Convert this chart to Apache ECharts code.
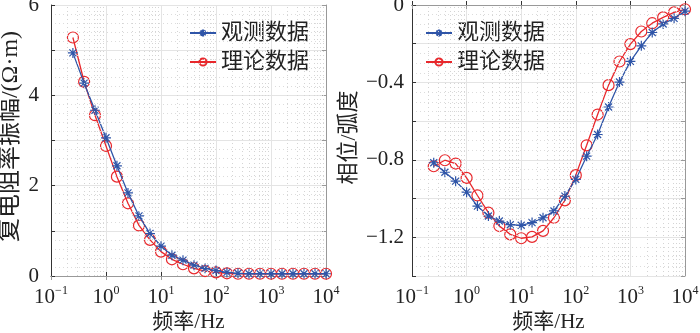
<!DOCTYPE html>
<html>
<head>
<meta charset="UTF-8">
<title>复电阻率振幅与相位</title>
<script src="https://cdn.jsdelivr.net/npm/echarts@6/dist/echarts.min.js"></script>
<style>
  html, body{ margin:0; padding:0; background:#fff; }
  #main{ width:700px; height:333px; }
</style>
</head>
<body>
<div id="main"></div>
<script>
// 频率点 (Hz)
var freq = [0.25, 0.4, 0.63, 1, 1.58, 2.51, 3.98, 6.31, 10, 15.8, 25.1, 39.8,
            63.1, 100, 158, 251, 398, 631, 1000, 1585, 2512, 3981, 6310, 10000];
// 振幅
var ampObs = [4.94, 4.27, 3.67, 3.06, 2.44, 1.84, 1.33, 0.94, 0.66, 0.46, 0.35, 0.24,
              0.17, 0.12, 0.08, 0.06, 0.05, 0.05, 0.05, 0.05, 0.05, 0.05, 0.05, 0.05];
var ampThe = [5.28, 4.30, 3.56, 2.88, 2.20, 1.61, 1.12, 0.80, 0.54, 0.37, 0.26, 0.17,
              0.11, 0.08, 0.06, 0.05, 0.05, 0.05, 0.05, 0.05, 0.05, 0.05, 0.05, 0.05];
// 相位
var phaObs = [-0.815, -0.864, -0.910, -0.967, -1.039, -1.090, -1.116, -1.135, -1.138, -1.124, -1.099, -1.064,
              -0.987, -0.901, -0.781, -0.669, -0.527, -0.398, -0.291, -0.211, -0.142, -0.098, -0.069, -0.032];
var phaThe = [-0.833, -0.802, -0.819, -0.893, -0.984, -1.073, -1.142, -1.185, -1.205, -1.198, -1.167, -1.099,
              -1.009, -0.879, -0.725, -0.566, -0.414, -0.292, -0.202, -0.137, -0.094, -0.064, -0.038, -0.022];
// 次网格线位置
var minorX = [];
[0.1, 1, 10, 100, 1000].forEach(function(d){
	for(var m=2;m<=9;m++){ minorX.push({xAxis: +(d*m).toPrecision(3)}); }
});

var blue = '#2f55a8';
var red = '#e8282c';
var numFont = '"Liberation Serif", "Times New Roman", serif';
var cjkFont = '"Liberation Serif", "Noto Sans CJK SC", serif';
var starPath = 'path://M0,-1L0,1M-1,0L1,0M-0.7,-0.7L0.7,0.7M-0.7,0.7L0.7,-0.7';

function pairs(ys){
	var out=[];
	for(var i=0;i<freq.length;i++){ out.push([freq[i], ys[i]]); }
	return out;
}
function logLabel(v){
	var e = Math.round(Math.log(v)/Math.LN10);
	return '{b|10}{s|' + (e<0 ? '\u2212'+(-e) : e) + '}';
}
var logRich = {
	b:{fontFamily:numFont, fontSize:21, color:'#222'},
	s:{fontFamily:numFont, fontSize:12, color:'#222', verticalAlign:'top', padding:[0,0,12,0]}
};

var grids = [
	{left:51, right:374, top:5, bottom:57, outerBoundsMode:'none', containLabel:false},
	{left:412, right:15, top:5, bottom:57, outerBoundsMode:'none', containLabel:false}
];

var chart = echarts.init(document.getElementById('main'));
var xAxes = [], yAxes = [];
[0,1].forEach(function(g){
	xAxes.push({
		type:'log', logBase:10, min:0.1, max:10000, gridIndex:g,
		name:'频率/Hz', nameLocation:'middle', nameGap:36,
		nameTextStyle:{fontFamily:cjkFont, fontSize:21, color:'#222'},
		axisLine:{lineStyle:{color:'#333', width:1}},
		axisTick:{inside:true, length:4, lineStyle:{color:'#333'}},
		axisLabel:{formatter:logLabel, rich:logRich, margin:9},
		splitLine:{show:true, lineStyle:{color:'#e4e4e4', width:1}}
	});
	xAxes.push({
		type:'log', logBase:10, min:0.1, max:10000, gridIndex:g, position:'top',
		axisLine:{lineStyle:{color:'#999'}},
		axisTick:{inside:true, length:4, lineStyle:{color:'#999'}},
		axisLabel:{show:false}, splitLine:{show:false}
	});
});
yAxes.push({
	type:'value', min:0, max:6, interval:1, gridIndex:0,
	name:'复电阻率振幅/(Ω·m)', nameLocation:'middle', nameGap:28,
	nameTextStyle:{fontFamily:cjkFont, fontSize:24, color:'#222', padding:[0,0,0,8]},
	axisLine:{show:true, lineStyle:{color:'#333'}},
	axisTick:{inside:true, length:4, lineStyle:{color:'#333'}},
	axisLabel:{fontFamily:numFont, fontSize:21, color:'#222', margin:12,
		formatter:function(v){ return (v%2===0) ? String(v) : ''; }},
	splitLine:{show:true, lineStyle:{color:'#e4e4e4'}},
	minorTick:{show:false, splitNumber:5},
	minorSplitLine:{show:true, lineStyle:{color:'#dcdcdc', type:[1,3]}}
});
yAxes.push({
	type:'value', min:0, max:6, interval:1, gridIndex:0, position:'right',
	axisLine:{show:true, lineStyle:{color:'#999'}},
	axisTick:{inside:true, length:4, lineStyle:{color:'#999'}},
	axisLabel:{show:false}, splitLine:{show:false}
});
yAxes.push({
	type:'value', min:-1.4, max:0, interval:0.2, gridIndex:1,
	name:'相位/弧度', nameLocation:'middle', nameGap:52,
	nameTextStyle:{fontFamily:cjkFont, fontSize:22, color:'#222', padding:[0,0,0,6]},
	axisLine:{show:true, lineStyle:{color:'#333'}},
	axisTick:{inside:true, length:4, lineStyle:{color:'#333'}},
	axisLabel:{fontFamily:numFont, fontSize:21, color:'#222', margin:8,
		formatter:function(v){
			var k = Math.round(v*10);
			if(k===0) return '0';
			if(k%4!==0) return '';
			return '\u2212' + (Math.abs(k)/10).toFixed(1);
		}},
	splitLine:{show:true, lineStyle:{color:'#e4e4e4'}},
	minorTick:{show:false, splitNumber:4},
	minorSplitLine:{show:true, lineStyle:{color:'#dcdcdc', type:[1,3]}}
});
yAxes.push({
	type:'value', min:-1.4, max:0, interval:0.2, gridIndex:1, position:'right',
	axisLine:{show:true, lineStyle:{color:'#999'}},
	axisTick:{inside:true, length:4, lineStyle:{color:'#999'}},
	axisLabel:{show:false}, splitLine:{show:false}
});

function minorSeries(xi, yi){
	return {
		type:'line', xAxisIndex:xi, yAxisIndex:yi, data:[], silent:true,
		markLine:{silent:true, symbol:'none', label:{show:false},
			lineStyle:{color:'#d4d4d4', type:[1,3], width:1}, data:minorX}
	};
}
function obsSeries(xi, yi, ys){
	return {
		name:'观测数据', type:'line', xAxisIndex:xi, yAxisIndex:yi, data:pairs(ys),
		symbol:starPath, symbolSize:10, showAllSymbol:true, z:3,
		lineStyle:{color:blue, width:1.3},
		itemStyle:{color:blue, borderColor:blue, borderWidth:1.2}
	};
}
function theSeries(xi, yi, ys){
	return {
		name:'理论数据', type:'line', xAxisIndex:xi, yAxisIndex:yi, data:pairs(ys),
		symbol:'circle', symbolSize:11, showAllSymbol:true, z:2,
		lineStyle:{color:red, width:1.3},
		itemStyle:{color:'rgba(255,255,255,0)', borderColor:red, borderWidth:1.2}
	};
}
function legend(left){
	return {
		left:left, top:17, orient:'vertical', itemGap:7, itemWidth:26, itemHeight:9,
		data:['观测数据','理论数据'],
		textStyle:{fontFamily:cjkFont, fontSize:22, color:'#222', padding:[0,0,0,0]}
	};
}

chart.setOption({
	animation:false,
	grid:grids,
	legend:[legend(184), legend(420)],
	xAxis:xAxes,
	yAxis:yAxes,
	series:[
		minorSeries(0,0),
		minorSeries(2,2),
		theSeries(0,0,ampThe),
		obsSeries(0,0,ampObs),
		theSeries(2,2,phaThe),
		obsSeries(2,2,phaObs)
	]
});
</script>
</body>
</html>
